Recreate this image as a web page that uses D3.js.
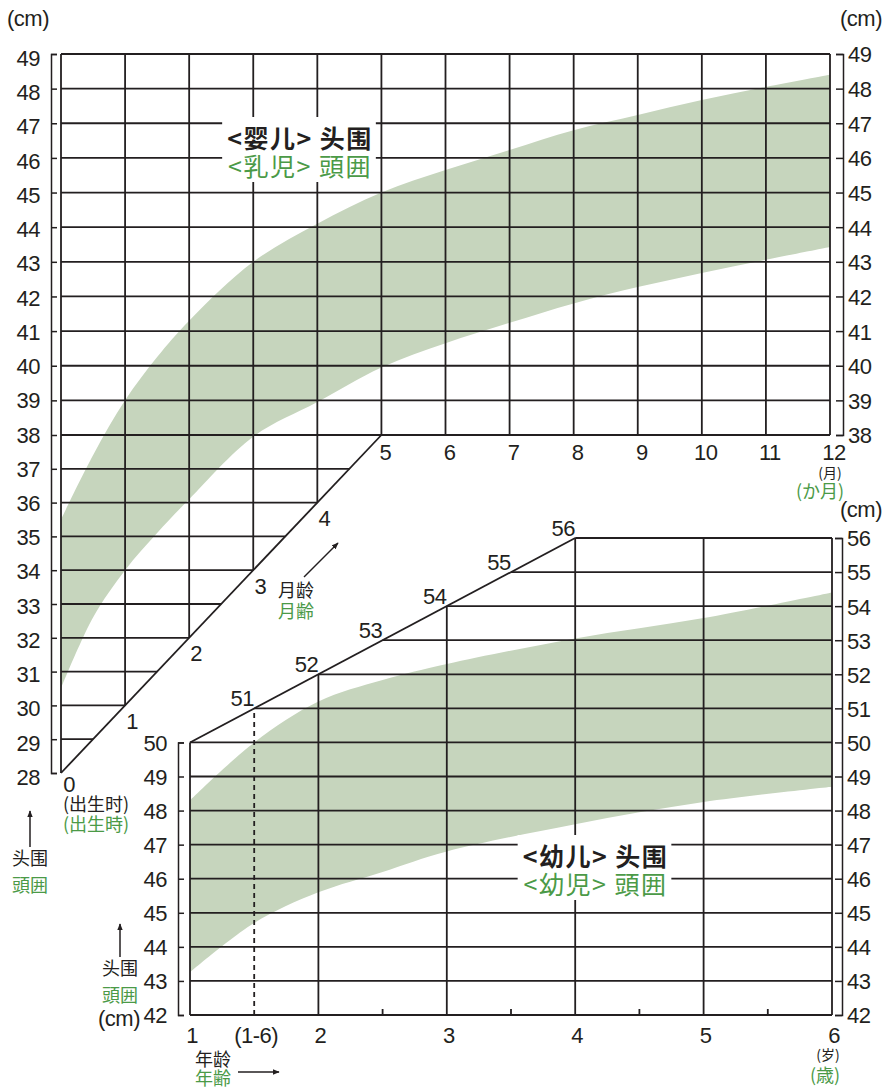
<!DOCTYPE html>
<html>
<head>
<meta charset="utf-8">
<script src="https://cdn.jsdelivr.net/npm/d3@7"></script>
<style>
  body { margin: 0; background: #fff; }
  text { fill: #231f20; }
  .num { font-family: "Liberation Sans", Arial, sans-serif; font-size: 22px; letter-spacing: -0.5px; }
  .sc  { font-family: "Noto Sans CJK SC", sans-serif; }
  .jp  { font-family: "Noto Sans CJK JP", sans-serif; }
  .green { fill: #4b9a47; }
</style>
</head>
<body>
<svg id="chart" width="884" height="1090"></svg>
<script>
// ---- infant chart (0-12 months) ----
var infantMonths = [0, 0.5, 1, 1.5, 2, 3, 4, 5, 6, 7, 8, 9, 10, 11, 12];
var infantUpper  = [35.5, 37.4, 39.0, 40.25, 41.3, 43.0, 44.1, 45.0, 45.65, 46.23, 46.8, 47.24, 47.67, 48.05, 48.4];
var infantLower  = [30.5, 32.6, 34.0, 35.1, 36.1, 37.95, 38.95, 39.95, 40.65, 41.24, 41.8, 42.27, 42.68, 43.06, 43.43];
var infantTicksLeft  = d3.range(28, 50);
var infantTicksRight = d3.range(38, 50);
var infantMonthLabels = [5, 6, 7, 8, 9, 10, 11, 12];
var infantDiagLabels  = [0, 1, 2, 3, 4];

// ---- toddler chart (1-6 years) ----
var toddlerYears = [1, 1.5, 2, 2.5, 3, 4, 5, 6];
var toddlerUpper = [48.3, 50.0, 51.2, 51.83, 52.3, 53.05, 53.65, 54.4];
var toddlerLower = [43.25, 44.7, 45.6, 46.2, 46.8, 47.6, 48.25, 48.7];
var toddlerTicksLeft  = d3.range(42, 51);
var toddlerTicksRight = d3.range(42, 57);
var toddlerYearLabels = [{v: 1, t: "1"}, {v: 1.5, t: "(1-6)"}, {v: 2, t: "2"}, {v: 3, t: "3"},
                         {v: 4, t: "4"}, {v: 5, t: "5"}, {v: 6, t: "6"}];
var toddlerDiagLabels = [51, 52, 53, 54, 55, 56];
var toddlerHalfTicks  = [2.5, 3.5, 4.5, 5.5];

var ink = "#231f20", band = "#c6d5bd", gw = 1.8;

var svg = d3.select("#chart");

svg.append("defs").append("marker")
    .attr("id", "arr").attr("viewBox", "0 0 10 10")
    .attr("refX", 9).attr("refY", 5)
    .attr("markerWidth", 7).attr("markerHeight", 7)
    .attr("markerUnits", "userSpaceOnUse")
    .attr("orient", "auto")
  .append("path").attr("d", "M0,1 L10,5 L0,9 Z").attr("fill", ink);

// scales
var xInf = d3.scaleLinear().domain([0, 12]).range([61, 830]);
var yInf = d3.scaleLinear().domain([28, 38, 49]).range([773, 435, 54]);
var xTod = d3.scaleLinear().domain([1, 6]).range([190, 832]);
var yTod = d3.scaleLinear().domain([42, 56]).range([1015, 538]);
// the left infant labels sit on an even pitch of their own
var yInfLab = d3.scaleLinear().domain([28, 49]).range([776.5, 57.5]);

// ---- bands ----
function drawBand(xs, lo, hi, x, y) {
    var pts = xs.map(function (d, i) { return {x: d, lo: lo[i], hi: hi[i]}; });
    var area = d3.area()
        .curve(d3.curveCatmullRom.alpha(0.5))
        .x(function (d) { return x(d.x); })
        .y0(function (d) { return y(d.lo); })
        .y1(function (d) { return y(d.hi); });
    svg.append("path").datum(pts).attr("d", area).attr("fill", band);
}
drawBand(infantMonths, infantLower, infantUpper, xInf, yInf);
drawBand(toddlerYears, toddlerLower, toddlerUpper, xTod, yTod);

// ---- grids ----
function seg(g, x1, y1, x2, y2) {
    return g.append("line")
        .attr("x1", x1).attr("y1", y1).attr("x2", x2).attr("y2", y2)
        .attr("stroke", ink).attr("stroke-width", gw);
}

var gInf = svg.append("g");
d3.range(29, 50).forEach(function (v) {
    var xEnd = v >= 38 ? 12 : (v - 28) / 2;
    seg(gInf, xInf(0), yInf(v), xInf(xEnd), yInf(v));
});
d3.range(0, 13).forEach(function (m) {
    var bottom = m === 0 ? 28 : (m <= 5 ? 28 + 2 * m : 38);
    seg(gInf, xInf(m), yInf(49), xInf(m), yInf(bottom));
});
seg(gInf, xInf(0), yInf(28), xInf(5), yInf(38));

var gTod = svg.append("g");
d3.range(42, 57).forEach(function (v) {
    var xStart = v <= 50 ? 1 : 1 + (v - 50) / 2;
    seg(gTod, xTod(xStart), yTod(v), xTod(6), yTod(v));
});
d3.range(1, 7).forEach(function (yr) {
    var top = yr <= 4 ? 50 + 2 * (yr - 1) : 56;
    seg(gTod, xTod(yr), yTod(42), xTod(yr), yTod(top));
});
seg(gTod, xTod(1), yTod(50), xTod(4), yTod(56));
seg(gTod, xTod(1.5), yTod(42), xTod(1.5), yTod(51)).attr("stroke-dasharray", "5,4");
toddlerHalfTicks.forEach(function (v) {
    seg(gTod, xTod(v), yTod(42), xTod(v), yTod(42) - 6);
});

// ---- axes (bracket style) ----
function styleAxis(g, side) {
    g.select(".domain").attr("stroke", ink).attr("stroke-width", 1.5);
    g.selectAll(".tick line").attr("stroke", ink).attr("stroke-width", 1.5);
    g.selectAll(".tick text")
        .attr("class", "num")
        .attr("fill", ink)
        .attr("dy", "0.36em")
        .attr("x", side === "left" ? -11 : 5)
        .attr("text-anchor", side === "left" ? "end" : "start");
    g.attr("font-family", null).attr("font-size", null);
}

var yInfR = d3.scaleLinear().domain([38, 49]).range([yInf(38), yInf(49)]);

svg.append("g").attr("transform", "translate(51,0)")
    .call(d3.axisRight(yInf).tickValues(infantTicksLeft).tickSize(6).tickSizeOuter(6))
    .call(styleAxis, "left")
    .selectAll(".tick text").attr("y", function (d) { return yInfLab(d) - yInf(d); });
svg.append("g").attr("transform", "translate(843,0)")
    .call(d3.axisLeft(yInfR).tickValues(infantTicksRight).tickSize(7).tickSizeOuter(7))
    .call(styleAxis, "right");

var yTodL = d3.scaleLinear().domain([42, 50]).range([yTod(42), yTod(50)]);
svg.append("g").attr("transform", "translate(178,0)")
    .call(d3.axisRight(yTodL).tickValues(toddlerTicksLeft).tickSize(6).tickSizeOuter(6))
    .call(styleAxis, "left");
svg.append("g").attr("transform", "translate(842,0)")
    .call(d3.axisLeft(yTod).tickValues(toddlerTicksRight).tickSize(7).tickSizeOuter(7))
    .call(styleAxis, "right");

// ---- x labels ----
svg.append("g").selectAll("text").data(infantMonthLabels).join("text")
    .attr("class", "num").attr("text-anchor", "middle")
    .attr("x", function (d) { return xInf(d) + 4; })
    .attr("y", 460)
    .text(function (d) { return d; });

svg.append("g").selectAll("text").data(infantDiagLabels).join("text")
    .attr("class", "num").attr("text-anchor", "middle")
    .attr("x", function (d) { return xInf(d) + (d === 0 ? 8 : 7); })
    .attr("y", function (d) { return yInf(28 + 2 * d) + (d === 0 ? 19 : 23.5); })
    .text(function (d) { return d; });

svg.append("g").selectAll("text").data(toddlerYearLabels).join("text")
    .attr("class", "num").attr("text-anchor", "middle")
    .attr("x", function (d) { return xTod(d.v) + 2; })
    .attr("y", 1043)
    .text(function (d) { return d.t; });

svg.append("g").selectAll("text").data(toddlerDiagLabels).join("text")
    .attr("class", "num").attr("text-anchor", "middle")
    .attr("x", function (d) { return xTod(1 + (d - 50) / 2) - 12; })
    .attr("y", function (d) { return yTod(d) - 10 + 8; })
    .text(function (d) { return d; });

// ---- small text ----
function label(x, y, txt, cls, size, anchor) {
    return svg.append("text").attr("x", x).attr("y", y)
        .attr("class", cls).attr("font-size", size)
        .attr("text-anchor", anchor || "middle").text(txt);
}

label(7, 26, "(cm)", "num", 20, "start");
label(882, 26, "(cm)", "num", 20, "end");
label(882, 517, "(cm)", "num", 20, "end");
label(140, 1026, "(cm)", "num", 20, "end");

label(830, 478, "(月)", "sc", 14);
label(820, 498, "(か月)", "jp green", 18);
label(828, 1060, "(岁)", "sc", 14);
label(825, 1082, "(歳)", "jp green", 18);

label(63, 811, "(出生时)", "sc", 18, "start");
label(63, 831, "(出生時)", "jp green", 18, "start");

label(296, 597, "月龄", "sc", 18);
label(296, 618, "月齢", "jp green", 18);
label(30, 864.5, "头围", "sc", 18);
label(30, 891.5, "頭囲", "jp green", 18);
label(120, 974.5, "头围", "sc", 18);
label(120, 1001.5, "頭囲", "jp green", 18);
label(213, 1066, "年龄", "sc", 18);
label(213, 1085, "年齢", "jp green", 18);

// arrows
function arrow(x1, y1, x2, y2) {
    svg.append("line").attr("x1", x1).attr("y1", y1).attr("x2", x2).attr("y2", y2)
        .attr("stroke", ink).attr("stroke-width", 1.5).attr("marker-end", "url(#arr)");
}
arrow(304, 577, 338, 543);
arrow(30, 847, 30, 811);
arrow(120, 957, 120, 924);
arrow(238, 1072, 279, 1072);

// ---- titles with white boxes ----
function title(cx, y1, t1, t2) {
    var g = svg.append("g");
    var r = g.append("rect").attr("fill", "#fff");
    g.append("text").attr("x", cx).attr("y", y1).attr("text-anchor", "middle")
        .attr("class", "sc").attr("font-size", 25).attr("font-weight", "bold")
        .attr("letter-spacing", 1.5).text(t1);
    g.append("text").attr("x", cx).attr("y", y1 + 28).attr("text-anchor", "middle")
        .attr("class", "jp green").attr("font-size", 25)
        .attr("letter-spacing", 1.5).text(t2);
    var b = g.node().getBBox();
    r.attr("x", b.x - 5).attr("y", b.y - 2).attr("width", b.width + 8).attr("height", b.height + 1);
}
title(300, 148, "<婴儿> 头围", "<乳児> 頭囲");
title(595.5, 866, "<幼儿> 头围", "<幼児> 頭囲");
</script>
</body>
</html>
